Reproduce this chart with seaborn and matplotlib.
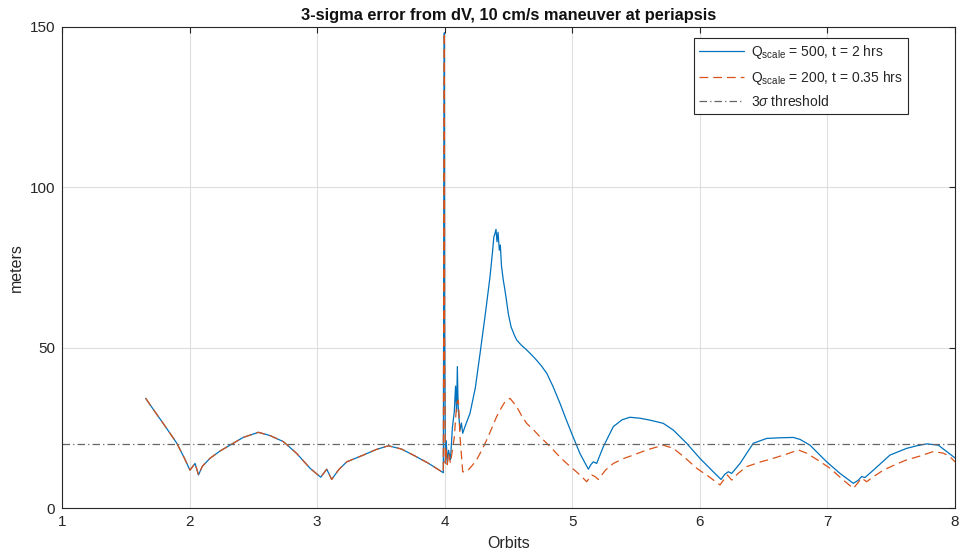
import numpy as np
import pandas as pd
import matplotlib
matplotlib.use("Agg")
import matplotlib.pyplot as plt
import seaborn as sns

# Shared error history before the maneuver (both filters agree)
orbits_pre = [1.656, 1.72, 1.80, 1.90, 1.96, 2.003, 2.043, 2.07, 2.10, 2.16, 2.24, 2.317,
              2.42, 2.539, 2.63, 2.735, 2.84, 2.944, 3.028, 3.075, 3.114, 3.17, 3.232,
              3.362, 3.46, 3.558, 3.66, 3.754, 3.87, 3.989]
error_pre = [34.2, 30.5, 26.0, 20.2, 15.5, 11.8, 13.9, 10.3, 13.0, 15.5, 17.8, 19.6,
             22.0, 23.6, 22.6, 20.7, 17.0, 12.4, 9.6, 12.1, 8.9, 12.0, 14.4,
             16.5, 18.2, 19.4, 18.4, 16.5, 14.0, 11.0]

# Q_scale = 500, t = 2 hrs after the maneuver
orbits_q500 = [3.997, 3.999, 4.005, 4.012, 4.02, 4.03, 4.045, 4.06, 4.075, 4.085, 4.093,
               4.099, 4.105, 4.112, 4.12, 4.131, 4.141, 4.16, 4.198, 4.24, 4.277, 4.32,
               4.355, 4.375, 4.385, 4.394, 4.402, 4.41, 4.418, 4.428, 4.436, 4.445,
               4.459, 4.47, 4.485, 4.498, 4.52, 4.545, 4.564, 4.60, 4.642, 4.68, 4.72,
               4.76, 4.80, 4.85, 4.904, 4.95, 4.995, 5.06, 5.126, 5.145, 5.165, 5.191,
               5.243, 5.322, 5.39, 5.452, 5.53, 5.609, 5.713, 5.792, 5.896, 6.0, 6.105,
               6.166, 6.195, 6.223, 6.25, 6.315, 6.419, 6.524, 6.63, 6.733, 6.785,
               6.863, 6.994, 7.098, 7.203, 7.24, 7.268, 7.294, 7.36, 7.49, 7.621,
               7.70, 7.778, 7.869, 7.935, 8.0]
error_q500 = [148.2, 60.0, 14.0, 21.0, 13.9, 18.0, 15.0, 25.0, 30.0, 38.0, 30.0,
              44.1, 32.0, 28.0, 24.3, 26.5, 23.3, 25.5, 29.5, 37.5, 48.2, 61.0,
              72.1, 80.0, 84.5, 85.6, 86.9, 83.0, 86.0, 80.4, 82.0, 75.5,
              71.1, 68.5, 64.5, 60.7, 56.5, 54.0, 52.4, 50.8, 49.3, 47.8, 46.1,
              44.2, 42.0, 37.8, 32.6, 27.8, 23.3, 17.0, 12.1, 13.5, 14.4, 13.9,
              19.1, 25.4, 27.5, 28.3, 28.0, 27.4, 26.4, 24.3, 20.2, 15.5, 11.3,
              8.9, 10.5, 11.3, 10.8, 13.9, 20.2, 21.7, 21.9, 22.0, 21.4,
              19.6, 14.4, 10.8, 7.7, 8.6, 9.8, 9.5, 11.8, 16.5, 18.6,
              19.4, 20.0, 19.6, 17.6, 15.6]

# Q_scale = 200, t = 0.35 hrs after the maneuver
orbits_q200 = [3.997, 3.999, 4.005, 4.012, 4.02, 4.03, 4.045, 4.06, 4.075, 4.094,
               4.107, 4.12, 4.141, 4.172, 4.21, 4.25, 4.29, 4.329, 4.37, 4.407, 4.44,
               4.472, 4.512, 4.564, 4.60, 4.642, 4.70, 4.747, 4.80, 4.851, 4.90,
               4.956, 5.02, 5.06, 5.113, 5.152, 5.178, 5.204, 5.26, 5.322, 5.40,
               5.478, 5.583, 5.713, 5.792, 5.88, 5.975, 6.07, 6.158, 6.215, 6.25,
               6.30, 6.367, 6.47, 6.576, 6.68, 6.772, 6.837, 6.93, 7.02, 7.11,
               7.203, 7.268, 7.307, 7.37, 7.438, 7.53, 7.621, 7.726, 7.83, 7.909,
               7.96, 8.0]
error_q200 = [148.2, 50.0, 14.0, 18.0, 13.5, 17.0, 14.0, 18.0, 22.0, 32.6,
              33.7, 22.2, 11.3, 11.3, 13.0, 15.0, 18.0, 21.2, 25.0, 28.5, 31.0,
              33.1, 34.2, 31.6, 29.0, 26.4, 24.2, 22.2, 20.2, 18.1, 16.0,
              13.9, 11.7, 10.3, 8.2, 10.3, 9.8, 8.9, 11.8, 13.9, 15.4,
              16.5, 18.1, 19.6, 18.6, 15.8, 12.4, 9.8, 7.2, 10.3, 8.7,
              10.8, 12.9, 14.3, 15.5, 16.8, 18.1, 17.1, 14.8, 12.4, 9.2,
              6.1, 9.3, 8.2, 10.0, 11.8, 13.5, 15.0, 16.2, 17.6, 17.1,
              16.0, 14.4]

threshold = 20.0

labels = [r"Q$_{\mathrm{scale}}$ = 500, t = 2 hrs",
          r"Q$_{\mathrm{scale}}$ = 200, t = 0.35 hrs",
          r"3$\sigma$ threshold"]

blue = "#0072BD"
orange = "#D95319"

sns.set_style("white")
plt.rcParams["font.family"] = ["Liberation Sans", "DejaVu Sans"]
plt.rcParams["mathtext.fontset"] = "custom"
plt.rcParams["mathtext.rm"] = "Liberation Sans"
plt.rcParams["mathtext.it"] = "Liberation Sans:italic"

df500 = pd.DataFrame({"Orbits": orbits_pre + orbits_q500,
                      "meters": error_pre + error_q500})
df200 = pd.DataFrame({"Orbits": orbits_pre + orbits_q200,
                      "meters": error_pre + error_q200})

fig = plt.figure(figsize=(9.59, 5.58), dpi=100)
ax = fig.add_axes([62 / 959, 50 / 558, 893 / 959, 481 / 558])

sns.lineplot(data=df500, x="Orbits", y="meters", ax=ax, color=blue, lw=0.9,
             sort=False, estimator=None, label=labels[0])
sns.lineplot(data=df200, x="Orbits", y="meters", ax=ax, color=orange, lw=0.9,
             sort=False, estimator=None, label=labels[1], dashes=False,
             linestyle=(0, (7, 4)))
ax.axhline(threshold, color="#666666", lw=0.9, linestyle=(0, (6, 2.5, 1, 2.5)),
           label=labels[2])

ax.set_xlim(1, 8)
ax.set_ylim(0, 150)
ax.set_xticks(range(1, 9))
ax.set_yticks([0, 50, 100, 150])
ax.grid(True, color="#dfdfdf", lw=0.8)
ax.set_axisbelow(True)
for s in ax.spines.values():
    s.set_color("#262626")
    s.set_linewidth(0.8)
ax.tick_params(direction="in", length=4, width=0.8, colors="#262626",
               labelsize=11, top=True, right=True, pad=5)

ax.set_xlabel("Orbits", fontsize=11.5, color="#262626", labelpad=5)
ax.set_ylabel("meters", fontsize=11.5, color="#262626", labelpad=4)
ax.set_title("3-sigma error from dV, 10 cm/s maneuver at periapsis",
             fontsize=11.8, fontweight="bold", color="#111111", pad=5)

leg = ax.legend(loc="upper right", bbox_to_anchor=(0.9475, 0.977), fontsize=10,
                frameon=True, fancybox=False, framealpha=1, edgecolor="#262626",
                handlelength=3.3, handletextpad=0.5, borderpad=0.35,
                labelspacing=0.55, borderaxespad=0)
leg.get_frame().set_linewidth(0.8)

fig.savefig("out.png", dpi=100)
